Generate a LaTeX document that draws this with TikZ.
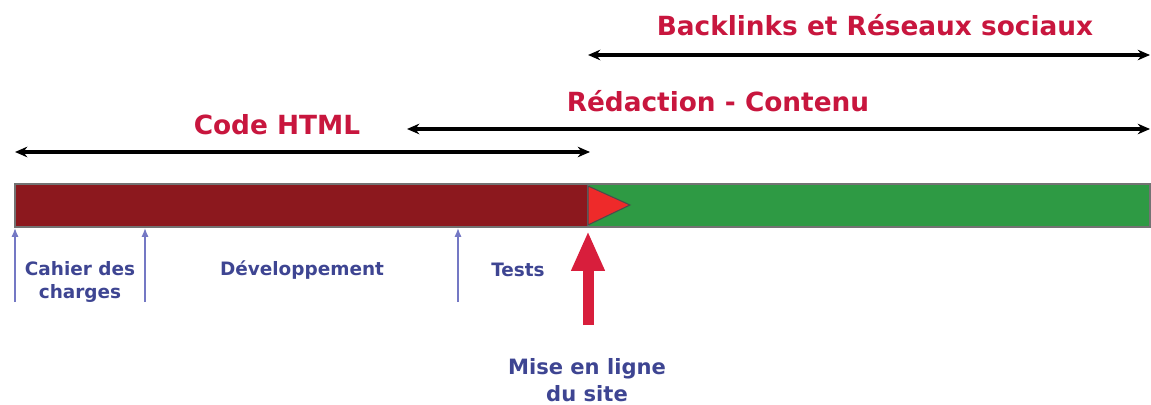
\documentclass[tikz,border=0pt]{standalone}
\usepackage{fontspec}
\setmainfont{DejaVu Sans}
\usetikzlibrary{positioning, arrows.meta}
\definecolor{barred}{HTML}{8C181E}
\definecolor{bargreen}{HTML}{2E9A44}
\definecolor{flagred}{HTML}{EE2A2A}
\definecolor{phasered}{HTML}{C8163E}
\definecolor{stepblue}{HTML}{3E4592}
\definecolor{tickblue}{HTML}{7478C4}
\definecolor{launchred}{HTML}{D81E3C}

\begin{document}
\begin{tikzpicture}[x=0.02cm, y=-0.02cm, line width=0.6pt,
    phase/.style={font=\bfseries\fontsize{15}{18}\selectfont, text=phasered},
    stepname/.style={font=\bfseries\fontsize{10.5}{13}\selectfont, text=stepblue, align=center},
    span/.style={line width=2pt, {Stealth[length=7pt,width=6pt]}-{Stealth[length=7pt,width=6pt]}},
    tick/.style={tickblue, line width=0.8pt, -{Latex[length=5pt,width=4pt]}}]
    \useasboundingbox (0,0) rectangle (1151,405);

    % timeline bar
    \filldraw[draw=black!55, fill=barred] (15,184) rectangle (588,227);
    \filldraw[draw=black!55, fill=bargreen] (588,184) rectangle (1150,227);
    \filldraw[draw=black!70, fill=flagred] (588,186) -- (630,205) -- (588,225) -- cycle;

    % spans
    \coordinate (html-l) at (15,152);
    \coordinate (html-r) at (590,152);
    \coordinate (redac-l) at (407,129);
    \coordinate (redac-r) at (1150,129);
    \coordinate (back-l) at (588,55);
    \coordinate (back-r) at (1150,55);
    \draw[span] (html-l) -- (html-r);
    \draw[span] (redac-l) -- (redac-r);
    \draw[span] (back-l) -- (back-r);
    \node[phase] (html) at (277,125) {Code HTML};
    \node[phase] (redac) at (718,101) {Rédaction - Contenu};
    \node[phase] (back) at (875,25) {Backlinks et Réseaux sociaux};

    % steps
    \foreach \name/\x in {cahier/15, dev/145, tests/458}{
      \coordinate (\name-bot) at (\x,302);
      \coordinate (\name-top) at (\x,228);
      \draw[tick] (\name-bot) -- (\name-top);
    }
    \node[stepname] (cahier) at (80,282) {Cahier des\\charges};
    \node[stepname] (dev) at (302,270) {Développement};
    \node[stepname] (tests) at (518,270) {Tests};

    % launch
    \coordinate (launch-bot) at (588,325);
    \coordinate (launch-top) at (588,231);
    \draw[launchred, line width=0.22cm, -{Triangle[length=0.8cm,width=0.62cm]}] (launch-bot) -- (launch-top);
    \node[stepname, font=\bfseries\fontsize{12}{15}\selectfont] (launch) at (587,380) {Mise en ligne\\du site};
\end{tikzpicture}
\end{document}
